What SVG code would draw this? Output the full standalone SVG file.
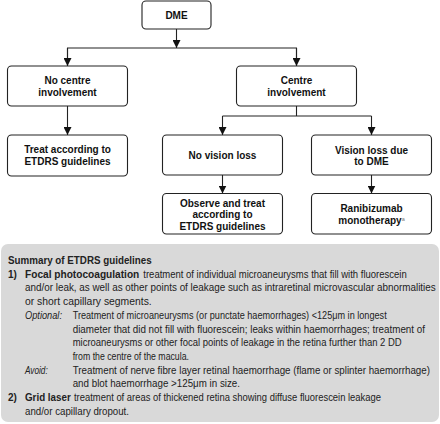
<svg xmlns="http://www.w3.org/2000/svg" width="440" height="424" viewBox="0 0 440 424">
<style>
.box{fill:#fff;stroke:#222;stroke-width:1.1}
.nt{font-family:"Liberation Sans",Arial,sans-serif;font-weight:bold;font-size:10px;fill:#111;text-anchor:middle}
.ln{fill:none;stroke:#222;stroke-width:1.1}
.st{font-family:"Liberation Sans",Arial,sans-serif;font-size:10px;fill:#222}
.b{font-weight:bold}
.i{font-style:italic}
</style>
<defs>
<marker id="ah" viewBox="0 0 10 10" refX="10" refY="5" markerWidth="8" markerHeight="8" markerUnits="userSpaceOnUse" orient="auto">
<path d="M0,0 L10,5 L0,10 z" fill="#111"/>
</marker>
</defs>
<rect x="1" y="244" width="438" height="178" rx="7" fill="#d9d9d9"/>
<g id="connectors">
<line class="ln" x1="176.5" y1="29" x2="176.5" y2="48" marker-end="url(#ah)"/>
<polyline class="ln" points="67.5,66 67.5,48 296.5,48 296.5,66"/>
<line class="ln" x1="67.5" y1="48" x2="67.5" y2="66" marker-end="url(#ah)"/>
<line class="ln" x1="296.5" y1="48" x2="296.5" y2="66" marker-end="url(#ah)"/>
<line class="ln" x1="67.5" y1="106" x2="67.5" y2="135" marker-end="url(#ah)"/>
<line class="ln" x1="296.5" y1="106" x2="296.5" y2="116"/>
<line class="ln" x1="222.5" y1="116" x2="371.5" y2="116"/>
<line class="ln" x1="222.5" y1="116" x2="222.5" y2="135" marker-end="url(#ah)"/>
<line class="ln" x1="371.5" y1="116" x2="371.5" y2="135" marker-end="url(#ah)"/>
<line class="ln" x1="222.5" y1="175" x2="222.5" y2="193.5" marker-end="url(#ah)"/>
<line class="ln" x1="371.5" y1="175" x2="371.5" y2="193.5" marker-end="url(#ah)"/>
</g>
<g id="dme">
<rect class="box" x="142" y="1" width="69" height="28" rx="4"/>
<text class="nt" x="176.5" y="18.5">DME</text>
</g>
<g id="no-centre">
<rect class="box" x="7.5" y="66" width="120" height="40" rx="4"/>
<text class="nt" x="67.5" y="84">No centre</text>
<text class="nt" x="67.5" y="95.5">involvement</text>
</g>
<g id="centre">
<rect class="box" x="236.5" y="66" width="120" height="40" rx="4"/>
<text class="nt" x="296.5" y="84">Centre</text>
<text class="nt" x="296.5" y="95.5">involvement</text>
</g>
<g id="treat-etdrs">
<rect class="box" x="7.5" y="135" width="120" height="41" rx="4"/>
<text class="nt" x="67.5" y="153">Treat according to</text>
<text class="nt" x="67.5" y="165">ETDRS guidelines</text>
</g>
<g id="no-vision-loss">
<rect class="box" x="162.5" y="135" width="120" height="40" rx="4"/>
<text class="nt" x="222.5" y="158.5">No vision loss</text>
</g>
<g id="vision-loss">
<rect class="box" x="311.5" y="135" width="120" height="40" rx="4"/>
<text class="nt" x="371.5" y="153.5">Vision loss due</text>
<text class="nt" x="371.5" y="165">to DME</text>
</g>
<g id="observe">
<rect class="box" x="162.5" y="193.5" width="120" height="40.5" rx="4"/>
<text class="nt" x="222.5" y="206.5">Observe and treat</text>
<text class="nt" x="222.5" y="218">according to</text>
<text class="nt" x="222.5" y="229.5">ETDRS guidelines</text>
</g>
<g id="ranibizumab">
<rect class="box" x="311.5" y="193.5" width="120" height="40.5" rx="4"/>
<text class="nt" x="371.5" y="211.5">Ranibizumab</text>
<text class="nt" x="371.5" y="223.5">monotherapy<tspan font-size="5.5" font-weight="normal" fill="#777" dy="-3">a</tspan></text>
</g>
<g id="summary">
<text class="st b" x="8" y="264" textLength="143.7" lengthAdjust="spacingAndGlyphs">Summary of ETDRS guidelines</text>
<text class="st b" x="8" y="277.7">1)</text>
<text class="st b" x="25" y="277.7" textLength="114.3" lengthAdjust="spacingAndGlyphs">Focal photocoagulation</text>
<text class="st" x="143.3" y="277.7" textLength="263.4" lengthAdjust="spacingAndGlyphs">treatment of individual microaneurysms that fill with fluorescein</text>
<text class="st" x="25" y="291.4" textLength="410.7" lengthAdjust="spacingAndGlyphs">and/or leak, as well as other points of leakage such as intraretinal microvascular abnormalities</text>
<text class="st" x="25" y="305.1" textLength="126.7" lengthAdjust="spacingAndGlyphs">or short capillary segments.</text>
<text class="st i" x="25" y="318.8" textLength="37" lengthAdjust="spacingAndGlyphs">Optional:</text>
<text class="st" x="72.7" y="318.8" textLength="314" lengthAdjust="spacingAndGlyphs">Treatment of microaneurysms (or punctate haemorrhages) &lt;125μm in longest</text>
<text class="st" x="72.7" y="332.5" textLength="352.3" lengthAdjust="spacingAndGlyphs">diameter that did not fill with fluorescein; leaks within haemorrhages; treatment of</text>
<text class="st" x="72.7" y="346.2" textLength="329" lengthAdjust="spacingAndGlyphs">microaneurysms or other focal points of leakage in the retina further than 2 DD</text>
<text class="st" x="72.7" y="359.9" textLength="116.3" lengthAdjust="spacingAndGlyphs">from the centre of the macula.</text>
<text class="st i" x="25" y="373.6" textLength="22.7" lengthAdjust="spacingAndGlyphs">Avoid:</text>
<text class="st" x="72.7" y="373.6" textLength="357.3" lengthAdjust="spacingAndGlyphs">Treatment of nerve fibre layer retinal haemorrhage (flame or splinter haemorrhage)</text>
<text class="st" x="72.7" y="387.3" textLength="167.3" lengthAdjust="spacingAndGlyphs">and blot haemorrhage &gt;125μm in size.</text>
<text class="st b" x="8" y="401">2)</text>
<text class="st b" x="25" y="401" textLength="45.7" lengthAdjust="spacingAndGlyphs">Grid laser</text>
<text class="st" x="74" y="401" textLength="307" lengthAdjust="spacingAndGlyphs">treatment of areas of thickened retina showing diffuse fluorescein leakage</text>
<text class="st" x="25" y="414.7" textLength="104" lengthAdjust="spacingAndGlyphs">and/or capillary dropout.</text>
</g>
</svg>
